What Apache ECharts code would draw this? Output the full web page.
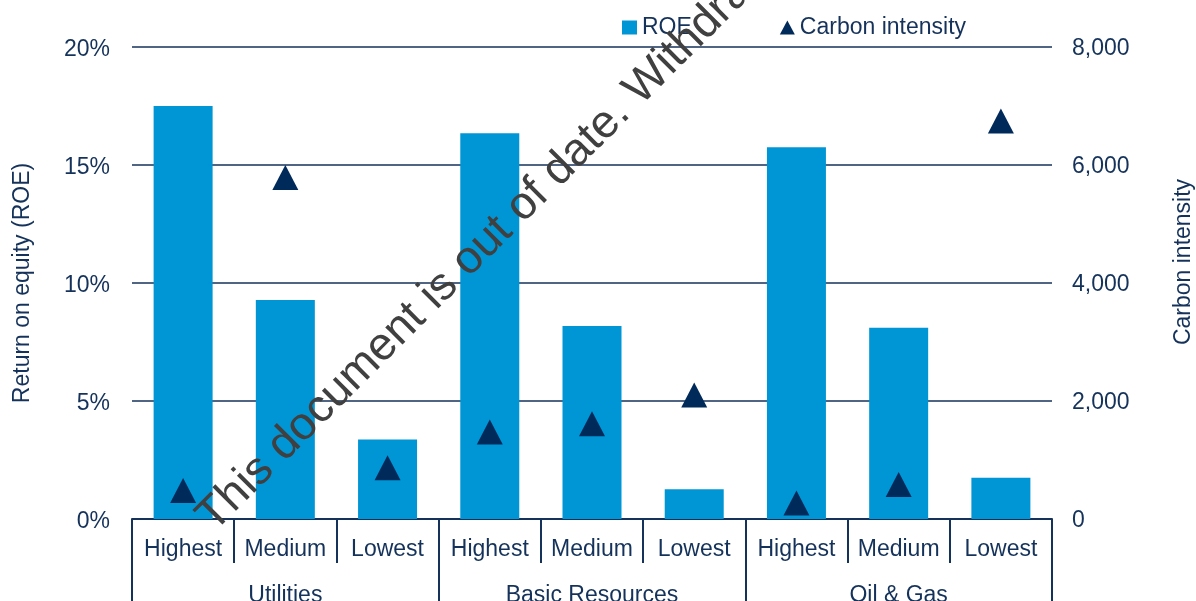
<!DOCTYPE html>
<html>
<head>
<meta charset="utf-8">
<script src="https://cdn.jsdelivr.net/npm/echarts@6/dist/echarts.min.js"></script>
<style>
  html, body { margin: 0; padding: 0; background: #ffffff; }
  #chart { width: 1196px; height: 601px; }
</style>
</head>
<body>
<div id="chart"></div>
<script>
// Carbon-intensity buckets within each sector
const subCategories = ['Highest', 'Medium', 'Lowest', 'Highest', 'Medium', 'Lowest', 'Highest', 'Medium', 'Lowest'];
const sectors = ['Utilities', 'Basic Resources', 'Oil & Gas'];
// Return on equity, percent
const roe = [17.5, 9.28, 3.37, 16.35, 8.18, 1.26, 15.75, 8.1, 1.75];
// Carbon intensity (right axis)
const carbonIntensity = [485, 5790, 870, 1475, 1615, 2100, 270, 585, 6745];

const FONT = "'Liberation Sans', Arial, sans-serif";
const NAVY = '#14325a';
const BAR_BLUE = '#0096d6';
const MARK_NAVY = '#002a5a';

const chart = echarts.init(document.getElementById('chart'));

chart.setOption({
  animation: false,
  backgroundColor: '#ffffff',
  textStyle: { fontFamily: FONT },
  grid: { left: 132, right: 144, top: 47, bottom: 82, containLabel: false, outerBoundsMode: 'none' },
  legend: {
    left: 622,
    top: 16,
    padding: 0,
    itemWidth: 15,
    itemHeight: 14,
    itemGap: 88,
    textStyle: { fontFamily: FONT, fontSize: 23, color: NAVY },
    data: [
      { name: 'ROE', icon: 'rect', itemStyle: { color: BAR_BLUE } },
      { name: 'Carbon intensity', icon: 'triangle', itemStyle: { color: MARK_NAVY, opacity: 1 } }
    ]
  },
  xAxis: [
    {
      type: 'category',
      data: subCategories,
      position: 'bottom',
      axisLine: { show: true, lineStyle: { color: NAVY, width: 2 } },
      axisTick: { show: true, interval: 0, length: 44, lineStyle: { color: NAVY, width: 2 } },
      axisLabel: { interval: 0, fontSize: 23, color: NAVY, fontFamily: FONT, margin: 19 },
      splitLine: { show: false }
    },
    {
      type: 'category',
      data: sectors,
      position: 'bottom',
      axisLine: { show: false },
      axisTick: { show: true, interval: 0, length: 100, lineStyle: { color: NAVY, width: 2 } },
      axisLabel: { interval: 0, fontSize: 23, color: NAVY, fontFamily: FONT, margin: 65 },
      splitLine: { show: false }
    }
  ],
  yAxis: [
    {
      type: 'value',
      min: 0,
      max: 20,
      interval: 5,
      position: 'left',
      name: 'Return on equity (ROE)',
      nameLocation: 'middle',
      nameGap: 98,
      nameTextStyle: { fontSize: 23, color: NAVY, fontFamily: FONT },
      axisLine: { show: false },
      axisTick: { show: false },
      axisLabel: {
        formatter: '{value}%', fontSize: 23, color: NAVY, fontFamily: FONT, margin: 22,
        verticalAlign: 'top', lineHeight: 6
      },
      splitLine: { show: true, lineStyle: { color: NAVY, width: 1.5 } }
    },
    {
      type: 'value',
      min: 0,
      max: 8000,
      interval: 2000,
      position: 'right',
      name: 'Carbon intensity',
      nameLocation: 'middle',
      nameGap: 120,
      nameTextStyle: { fontSize: 23, color: NAVY, fontFamily: FONT, padding: [0, 0, 0, 42] },
      axisLine: { show: false },
      axisTick: { show: false },
      axisLabel: {
        formatter: function (v) { return v.toLocaleString('en-US'); },
        fontSize: 23, color: NAVY, fontFamily: FONT, margin: 20,
        verticalAlign: 'top', lineHeight: 3
      },
      splitLine: { show: false }
    }
  ],
  series: [
    {
      name: 'ROE',
      type: 'bar',
      xAxisIndex: 0,
      yAxisIndex: 0,
      data: roe,
      barWidth: 59,
      itemStyle: { color: BAR_BLUE }
    },
    {
      name: 'Carbon intensity',
      type: 'scatter',
      xAxisIndex: 0,
      yAxisIndex: 1,
      data: carbonIntensity,
      symbol: 'triangle',
      symbolSize: [26, 25],
      itemStyle: { color: MARK_NAVY, opacity: 1 }
    }
  ],
  graphic: [
    {
      type: 'text',
      x: 205,
      y: 524,
      rotation: Math.PI / 4,
      z: 100,
      silent: true,
      style: {
        text: 'This document is out of date. Withdrawn',
        fontSize: 46,
        fontFamily: FONT,
        fill: '#404040',
        align: 'left',
        verticalAlign: 'middle'
      }
    }
  ]
});
</script>
</body>
</html>
